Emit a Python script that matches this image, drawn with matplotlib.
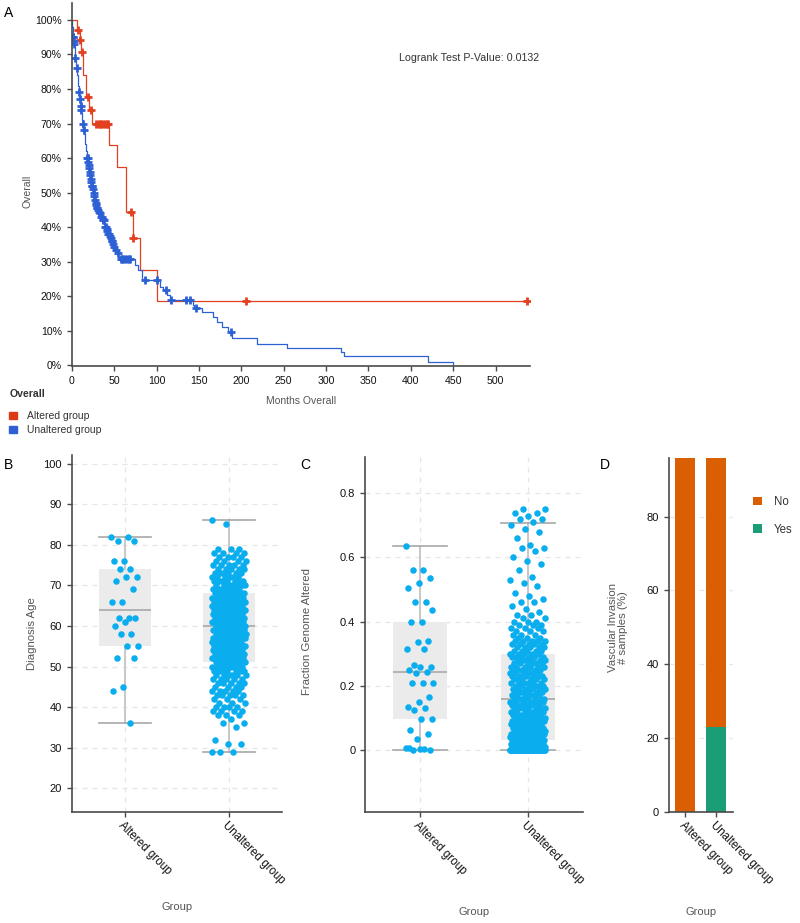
import numpy as np
import matplotlib
matplotlib.use("Agg")
import matplotlib.pyplot as plt
from matplotlib.patches import Patch

plt.rcParams['font.family'] = ['Liberation Sans', 'DejaVu Sans']

# ---- panel A : Kaplan-Meier (months, survival fraction) ----
alt_t = [0, 5.8, 9.7, 11.0, 13.7, 16.9, 20.8, 24.3, 44.3, 53.0, 63.7, 72.0, 80.5, 100.2]
alt_s = [1.0, 0.971, 0.942, 0.908, 0.84, 0.778, 0.739, 0.70, 0.638, 0.574, 0.444, 0.37, 0.277, 0.185]
alt_cens = [7.5, 10.2, 12.3, 19.6, 22.4, 29, 31, 33, 35, 37, 39, 41, 43, 70.0, 72.8, 205.5, 536.6]
alt_end = 536.6

una_t = [0, 0.3, 0.6, 0.9, 1.2, 1.5, 2.5, 3.0, 3.4, 3.7, 4.0, 4.3, 4.8, 5.3, 5.8, 6.3,
         6.7, 7.1, 7.5, 7.9, 8.3, 8.6, 9.0, 9.6, 10.2, 10.7, 11.0, 11.3, 11.9, 12.5, 13.1,
         13.7, 14.1, 14.7, 15.2, 15.7, 16.2, 16.7, 17.2, 17.7, 18.2, 19.0, 19.6, 20.2, 20.8,
         21.4, 22.0, 22.6, 23.6, 24.5, 25.5, 26.3, 27.0, 27.8, 28.6, 29.5, 30.5, 31.5, 32.5,
         34.0, 35.5, 37.3, 38.3, 39.3, 40.5, 42.0, 43.2, 44.5, 46.0, 47.2, 48.5, 49.9, 51.5,
         53.0, 55.0, 57.0, 74.6, 78.5, 82.5, 104.0, 108.0, 112.7, 116.0, 142.7, 144.0, 153.3,
         166.6, 171.0, 176.9, 184.7, 188.7, 218.0, 253.5, 317.6, 321.5, 420.5, 450.0]
una_s = [1.0, 0.99, 0.98, 0.97, 0.96, 0.95, 0.94, 0.93, 0.92, 0.91, 0.90, 0.89, 0.88, 0.87, 0.86, 0.85,
         0.84, 0.83, 0.82, 0.81, 0.80, 0.79, 0.78, 0.77, 0.76, 0.75, 0.74, 0.73, 0.72, 0.71, 0.70,
         0.69, 0.68, 0.67, 0.66, 0.65, 0.64, 0.63, 0.62, 0.61, 0.60, 0.59, 0.58, 0.57, 0.56,
         0.55, 0.54, 0.53, 0.52, 0.51, 0.50, 0.49, 0.48, 0.47, 0.465, 0.455, 0.45, 0.445, 0.44,
         0.43, 0.425, 0.42, 0.41, 0.40, 0.395, 0.39, 0.38, 0.375, 0.37, 0.36, 0.35, 0.343, 0.335,
         0.325, 0.314, 0.307, 0.29, 0.275, 0.246, 0.227, 0.217, 0.203, 0.188, 0.174, 0.166, 0.155,
         0.14, 0.126, 0.111, 0.097, 0.078, 0.063, 0.051, 0.039, 0.026, 0.010, 0.0]
una_cens = [1.6, 2.0, 2.6, 3.2, 4.3, 5.9, 8.6, 9.7, 10.8, 11.2, 13.2, 14.2, 18.4, 18.9, 19.3, 19.8,
            20.4, 21.0, 21.6, 22.4, 23.0, 23.6, 24.2, 25.0, 25.8, 26.7, 27.4, 28.2, 29.0, 29.5,
            30.2, 31.0, 32.0, 33.4, 34.5, 35.4, 36.3, 37.3, 38.0, 39.3, 40.0, 41.0, 42.0, 43.2,
            44.0, 45.0, 46.0, 47.2, 48.0, 49.0, 50.0, 52.0, 54.0, 57.5, 59.5, 61.0, 63.0, 65.0,
            67.0, 68.8, 86.4, 100.2, 111.2, 117.0, 134.8, 139.5, 146.6, 187.5]
pvalue_text = "Logrank Test P-Value: 0.0132"

groups = ["Altered group", "Unaltered group"]

# ---- panel B : diagnosis age ----
alt_age = [82, 82, 81, 81, 76, 76, 74, 74, 72, 72, 71, 69, 66, 66, 62, 62, 62, 61, 60,
           58, 58, 55, 55, 52, 52, 45, 44, 36]
una_age_values = list(range(29, 87))
una_age_counts = [3, 0, 2, 1, 0, 0, 1, 2, 1, 3, 4, 4, 3, 3, 5, 5, 4, 5, 5, 6, 7, 8,
                  9, 9, 9, 10, 10, 10, 10, 10, 10, 11, 10, 10, 9, 9, 9, 9, 8, 8, 7, 7,
                  7, 6, 6, 5, 5, 4, 4, 4, 3, 0, 0, 0, 0, 0, 1, 1]
# box stats: whislo, q1, median, q3, whishi
age_box = [[36, 55, 64, 74, 82], [29, 51, 60, 68, 86]]

# ---- panel C : fraction genome altered ----
alt_fga = [0.636, 0.561, 0.561, 0.535, 0.519, 0.504, 0.462, 0.462, 0.436, 0.40, 0.40,
           0.341, 0.336, 0.315, 0.315, 0.265, 0.26, 0.26, 0.249, 0.244, 0.24, 0.208, 0.208,
           0.208, 0.166, 0.151, 0.133, 0.13, 0.125, 0.096, 0.096, 0.064, 0.049, 0.033,
           0.005, 0.003, 0.0, 0.0, 0.004, 0.006]
una_fga_values = [round(0.01 * i, 2) for i in range(76)]
una_fga_counts = [40, 18, 16, 12, 10, 9, 9, 8, 8, 8,      # 0.00 - 0.09
                  7, 7, 7, 7, 7, 7, 7, 6, 6, 6,           # 0.10 - 0.19
                  6, 6, 6, 6, 6, 6, 6, 6, 6, 6,           # 0.20 - 0.29
                  5, 5, 5, 5, 5, 3, 3, 3, 3, 3,           # 0.30 - 0.39
                  3, 2, 2, 1, 1, 1, 2, 1, 1, 1,           # 0.40 - 0.49
                  0, 1, 1, 1, 1, 0, 1, 0, 1, 1,           # 0.50 - 0.59
                  1, 0, 1, 2, 1, 0, 1, 0, 1, 1,           # 0.60 - 0.69
                  1, 1, 2, 1, 2, 2]                       # 0.70 - 0.75
fga_box = [[0.0, 0.096, 0.242, 0.40, 0.636], [0.0, 0.031, 0.158, 0.298, 0.706]]

# ---- panel D : vascular invasion (% samples) ----
vi_yes = [0.0, 23.0]
vi_no = [100.0, 77.0]

# ---- styling ----
red = '#E2401E'
blue = '#2D60D5'
dot = '#0AAEEF'
box_fill = '#EBEBEB'
box_line = '#A8A8A8'
spine_col = '#4a4a4a'
lab_col = '#555555'
tick_col = '#111111'

W, H = 800, 923
fig = plt.figure(figsize=(8, 9.23), dpi=100)


def px_axes(l, t, r, b):
    return fig.add_axes([l / W, 1 - b / H, (r - l) / W, (b - t) / H])


def style_axes(ax):
    for s in ['top', 'right']:
        ax.spines[s].set_visible(False)
    for s in ['left', 'bottom']:
        ax.spines[s].set_color(spine_col)
        ax.spines[s].set_linewidth(1.2)
    ax.tick_params(colors=spine_col, labelcolor=tick_col, labelsize=8, length=3.5, width=1)


def jitter(n, width=0.15):
    # evenly spread (non random) horizontal offsets
    return ((np.arange(n) * 0.6180339887) % 1 - 0.5) * 2 * width


# ================= A =================
axA = px_axes(71.5, 3, 530, 366)
style_axes(axA)
axA.step(list(alt_t) + [alt_end], list(alt_s) + [alt_s[-1]], where='post', color=red, lw=0.9)
idx = np.searchsorted(alt_t, alt_cens, side='right') - 1
axA.plot(alt_cens, np.array(alt_s)[idx], '+', color=red, ms=6, mew=2)
axA.step(una_t, una_s, where='post', color=blue, lw=0.9)
idx = np.searchsorted(una_t, una_cens, side='right') - 1
axA.plot(una_cens, np.array(una_s)[idx], '+', color=blue, ms=6, mew=2)
axA.set_xlim(-0.3, 540.5)
axA.set_ylim(-0.002, 1.049)
axA.set_xticks(np.arange(0, 501, 50))
axA.set_yticks(np.arange(0, 1.01, 0.1))
axA.set_yticklabels(['%d%%' % round(v * 100) for v in np.arange(0, 1.01, 0.1)])
axA.tick_params(labelsize=7.6)
axA.set_xlabel("Months Overall", fontsize=7.5, color=lab_col)
axA.xaxis.set_label_coords(0.5, -0.083)
axA.set_ylabel("Overall", fontsize=7.5, color=lab_col)
axA.yaxis.set_label_coords(-0.084, 0.48)
axA.text(0.715, 0.849, pvalue_text, transform=axA.transAxes, fontsize=7.7,
         color='#333333', va='center', ha='left')

fig.text(10 / W, 1 - 394 / H, "Overall", fontsize=7.6, fontweight='bold', color='#333333', va='center')
fig.legend(handles=[Patch(color='#DC3A14'), Patch(color='#2E5FD4')], labels=groups,
           loc='upper left', bbox_to_anchor=(9 / W, 1 - 411 / H), frameon=False,
           fontsize=7.5, handlelength=0.75, handleheight=0.75, handletextpad=1.0,
           labelspacing=0.4, borderpad=0, borderaxespad=0, labelcolor='#333333')

fig.text(8.5 / W, 1 - 13 / H, "A", fontsize=10, ha='center', va='center')
fig.text(8.5 / W, 1 - 465 / H, "B", fontsize=10, ha='center', va='center')
fig.text(305 / W, 1 - 465 / H, "C", fontsize=10, ha='center', va='center')
fig.text(604.5 / W, 1 - 465 / H, "D", fontsize=10, ha='center', va='center')


def box_panel(ax, box, alt_vals, una_vals):
    stats = [dict(whislo=b[0], q1=b[1], med=b[2], q3=b[3], whishi=b[4], fliers=[]) for b in box]
    ax.grid(True, color='#E6E6E6', lw=0.9, ls=(0, (4, 4)), zorder=0)
    ax.set_axisbelow(True)
    ax.bxp(stats, positions=[1, 2], widths=0.5, capwidths=0.5, patch_artist=True,
           showfliers=False, manage_ticks=False, zorder=2,
           boxprops=dict(facecolor=box_fill, edgecolor='none'),
           medianprops=dict(color=box_line, lw=1.2),
           whiskerprops=dict(color='#C4C4C4', lw=1.3),
           capprops=dict(color=box_line, lw=1.2))
    ax.scatter(1 + jitter(len(alt_vals), 0.13), alt_vals, s=22, color=dot, lw=0, zorder=3)
    ax.scatter(2 + jitter(len(una_vals), 0.165), una_vals, s=22, color=dot, lw=0, zorder=3)
    ax.set_xlim(0.49, 2.51)
    ax.set_xticks([1, 2])
    ax.set_xticklabels(groups, rotation=-45, ha='left', va='top', rotation_mode='anchor',
                       fontsize=8.3)
    ax.tick_params(axis='x', pad=2)


# ================= B =================
axB = px_axes(71.7, 455, 281.7, 811.7)
style_axes(axB)
una_age = np.repeat(una_age_values, una_age_counts)
box_panel(axB, age_box, alt_age, una_age)
axB.set_ylim(14.24, 102.1)
axB.set_yticks(np.arange(20, 101, 10))
axB.set_xlabel("Group", fontsize=8, color=lab_col)
axB.xaxis.set_label_coords(0.5, -0.253)
axB.set_ylabel("Diagnosis Age", fontsize=8.2, color=lab_col)
axB.yaxis.set_label_coords(-0.167, 0.5)

# ================= C =================
axC = px_axes(365, 457.3, 582.7, 811.7)
style_axes(axC)
una_fga = np.repeat(una_fga_values, una_fga_counts)
box_panel(axC, fga_box, alt_fga, una_fga)
axC.set_ylim(-0.192, 0.912)
axC.set_yticks([0, 0.2, 0.4, 0.6, 0.8])
axC.set_yticklabels(['0', '0.2', '0.4', '0.6', '0.8'])
axC.set_xlabel("Group", fontsize=8, color=lab_col)
axC.xaxis.set_label_coords(0.5, -0.269)
axC.set_ylabel("Fraction Genome Altered", fontsize=8.2, color=lab_col)
axC.yaxis.set_label_coords(-0.245, 0.508)

# ================= D =================
axD = px_axes(668.5, 458.3, 732.7, 811.7)
style_axes(axD)
axD.grid(True, axis='y', color='#E6E6E6', lw=0.9, ls=(0, (4, 4)), zorder=0)
axD.set_axisbelow(True)
xD = np.arange(1, len(groups) + 1)
axD.bar(xD, vi_yes, width=0.65, color='#1B9E77', label='Yes', zorder=2)
axD.bar(xD, vi_no, width=0.65, bottom=vi_yes, color='#D95F02', label='No', zorder=2)
axD.set_xlim(0.46, 2.54)
axD.set_ylim(0, 95.8)
axD.set_yticks([0, 20, 40, 60, 80])
axD.set_xticks(xD)
axD.set_xticklabels(groups, rotation=-45, ha='left', va='top', rotation_mode='anchor', fontsize=8.3)
axD.tick_params(axis='x', pad=2)
axD.set_xlabel("Group", fontsize=8, color=lab_col)
axD.xaxis.set_label_coords(0.5, -0.27)
axD.set_ylabel("Vascular Invasion\n# samples (%)", fontsize=8.2, color=lab_col,
               multialignment='center', linespacing=1.05)
axD.yaxis.set_label_coords(-0.626, 0.52)
h, l = axD.get_legend_handles_labels()
fig.legend(h[::-1], l[::-1], loc='upper left', bbox_to_anchor=(753 / W, 1 - 496 / H),
           frameon=False, fontsize=8.3, handlelength=0.78, handleheight=0.78,
           handletextpad=1.0, labelspacing=1.35, borderpad=0, borderaxespad=0,
           labelcolor='#333333')

fig.savefig("out.png", dpi=100)
